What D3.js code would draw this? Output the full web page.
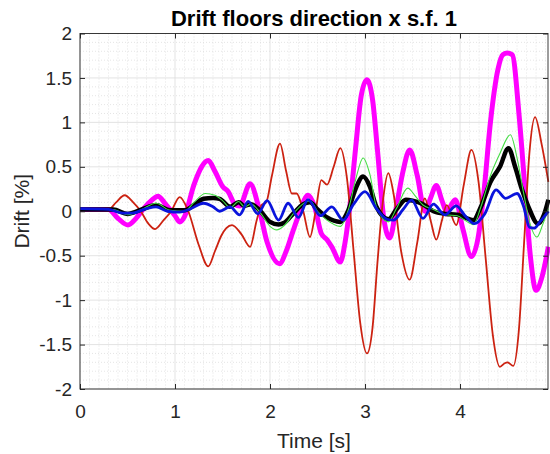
<!DOCTYPE html>
<html>
<head>
<meta charset="utf-8">
<script src="https://cdn.jsdelivr.net/npm/d3@7"></script>
<style>
  body { margin: 0; background: #fff; }
  text { font-family: "Liberation Sans", Arial, sans-serif; }
</style>
</head>
<body>
<div id="chart"></div>
<script>
// tick values
const xTicks = [0, 1, 2, 3, 4];
const yTicks = [-2, -1.5, -1, -0.5, 0, 0.5, 1, 1.5, 2];

// series: time [s] and drift [%]
const redT = [0, 0.3, 0.38, 0.47, 0.56, 0.64, 0.72, 0.79, 0.88, 0.96, 1.05, 1.14, 1.25, 1.35, 1.42, 1.49, 1.54, 1.6, 1.7, 1.79, 1.86, 1.91, 1.96, 2.02, 2.105, 2.17, 2.23, 2.28, 2.35, 2.42, 2.48, 2.54, 2.6, 2.67, 2.74, 2.81, 2.88, 2.95, 3.02, 3.08, 3.13, 3.19, 3.245, 3.3, 3.38, 3.47, 3.55, 3.63, 3.69, 3.75, 3.81, 3.86, 3.96, 4.04, 4.12, 4.195, 4.27, 4.345, 4.42, 4.47, 4.5, 4.56, 4.62, 4.675, 4.73, 4.79, 4.86, 4.93];
const redV = [0.02, 0.02, 0.1, 0.18, 0.1, 0, -0.14, -0.2, -0.1, 0, 0.16, 0, -0.38, -0.62, -0.45, -0.27, -0.19, -0.155, -0.26, -0.4, -0.1, 0.07, 0.1, 0.4, 0.76, 0.45, 0.2, 0.2, 0, -0.29, 0, 0.35, 0.3, 0.5, 0.71, 0.37, -0.45, -1.26, -1.6, -1.3, -0.59, 0.13, 0.43, 0.2, -0.45, -0.77, -0.35, 0.145, -0.1, -0.32, -0.1, 0.07, -0.155, 0.3, 0.69, 0.33, -0.53, -1.39, -1.75, -1.71, -1.7, -1.74, -1.33, -0.34, 0.65, 1.06, 0.75, 0.33];

const magT = [0, 0.3, 0.4, 0.505, 0.59, 0.67, 0.75, 0.82, 0.9, 1.0, 1.05, 1.1, 1.2, 1.28, 1.35, 1.42, 1.5, 1.56, 1.63, 1.68, 1.79, 1.88, 1.97, 2.1, 2.17, 2.24, 2.3, 2.4, 2.47, 2.54, 2.6, 2.65, 2.74, 2.79, 2.84, 2.9, 2.96, 3.02, 3.08, 3.13, 3.2, 3.26, 3.33, 3.4, 3.47, 3.55, 3.63, 3.69, 3.75, 3.81, 3.86, 3.95, 4.03, 4.12, 4.19, 4.25, 4.32, 4.4, 4.45, 4.5, 4.55, 4.62, 4.68, 4.74, 4.8, 4.86, 4.93];
const magV = [0.02, 0.02, -0.08, -0.155, -0.08, 0.03, 0.12, 0.17, 0.08, -0.05, -0.12, -0.06, 0.3, 0.5, 0.57, 0.45, 0.28, 0.22, 0.08, 0.06, 0.31, 0.05, -0.35, -0.59, -0.45, -0.23, -0.05, 0.18, 0.05, -0.25, -0.32, -0.4, -0.57, -0.35, 0.05, 0.7, 1.3, 1.48, 1.25, 0.7, -0.1, -0.3, 0.05, 0.45, 0.69, 0.4, 0, 0.15, 0.29, 0.12, 0, 0.13, -0.2, -0.51, -0.3, 0.2, 1.0, 1.6, 1.76, 1.78, 1.76, 1.1, 0.3, -0.5, -0.89, -0.75, -0.4];

const blackT = [0, 0.35, 0.5, 0.65, 0.8, 0.95, 1.1, 1.2, 1.3, 1.4, 1.47, 1.58, 1.67, 1.73, 1.8, 1.9, 2.0, 2.09, 2.15, 2.25, 2.35, 2.42, 2.5, 2.6, 2.74, 2.82, 2.9, 2.98, 3.05, 3.12, 3.245, 3.33, 3.43, 3.5, 3.61, 3.72, 3.85, 3.97, 4.05, 4.14, 4.22, 4.32, 4.42, 4.51, 4.58, 4.65, 4.72, 4.82, 4.88, 4.93];
const blackV = [0.02, 0.02, -0.03, 0.02, 0.07, 0.01, 0.01, 0.07, 0.14, 0.15, 0.14, 0.05, 0.1, 0.06, 0.08, 0, -0.12, -0.15, -0.13, -0.02, 0.08, 0.1, 0.02, -0.07, -0.12, 0, 0.25, 0.39, 0.28, 0.05, -0.09, 0.02, 0.13, 0.12, 0.08, 0, -0.03, -0.04, -0.07, -0.1, 0.05, 0.33, 0.5, 0.71, 0.5, 0.25, 0.05, -0.14, -0.05, 0.13];

const greenT = [0, 0.35, 0.5, 0.65, 0.8, 0.95, 1.1, 1.2, 1.32, 1.42, 1.5, 1.58, 1.67, 1.73, 1.8, 1.9, 2.0, 2.07, 2.15, 2.25, 2.37, 2.42, 2.5, 2.6, 2.74, 2.82, 2.9, 2.98, 3.05, 3.12, 3.245, 3.33, 3.45, 3.53, 3.61, 3.72, 3.85, 3.97, 4.05, 4.14, 4.22, 4.32, 4.42, 4.53, 4.6, 4.67, 4.74, 4.81, 4.87, 4.93];
const greenV = [0.02, 0.02, -0.04, 0.02, 0.09, 0.01, 0, 0.1, 0.2, 0.18, 0.12, 0.04, 0.11, 0.05, 0.08, -0.02, -0.17, -0.21, -0.16, -0.02, 0.1, 0.12, 0, -0.1, -0.17, 0, 0.35, 0.6, 0.42, 0.05, -0.12, 0.03, 0.26, 0.17, 0.07, 0.02, -0.04, -0.05, -0.1, -0.15, 0.05, 0.4, 0.65, 0.86, 0.6, 0.2, -0.15, -0.29, -0.15, 0.03];

const blueT = [0, 0.3, 0.45, 0.55, 0.7, 0.8, 0.92, 1.05, 1.15, 1.3, 1.4, 1.47, 1.58, 1.68, 1.77, 1.87, 1.97, 2.09, 2.19, 2.3, 2.4, 2.53, 2.65, 2.77, 2.88, 3.0, 3.12, 3.23, 3.3, 3.4, 3.49, 3.61, 3.72, 3.84, 3.96, 4.06, 4.15, 4.26, 4.38, 4.48, 4.6, 4.67, 4.73, 4.78, 4.84, 4.93];
const blueV = [0.03, 0.02, -0.02, -0.02, 0.03, 0.05, 0, -0.01, 0.02, 0.09, 0.05, 0, 0.05, -0.04, 0.11, -0.03, 0.12, -0.1, 0.09, -0.07, 0.13, -0.05, 0.05, -0.1, 0.08, 0.22, 0.03, -0.09, -0.1, 0.02, 0.125, -0.08, 0.08, -0.04, 0.06, -0.06, -0.14, -0.03, 0.24, 0.145, 0.2, 0.05, -0.18, -0.19, -0.12, 0];

const series = [
  { t: magT, v: magV, color: "#ff00ff", w: 5 },
  { t: redT, v: redV, color: "#cc2211", w: 1.8 },
  { t: blackT, v: blackV, color: "#000000", w: 4.5 },
  { t: greenT, v: greenV, color: "#44dd44", w: 1.1 },
  { t: blueT, v: blueV, color: "#0a14dc", w: 2.8 }
];

const W = 550, H = 454;
const pLeft = 80, pRight = 548, pTop = 33.5, pBottom = 389;

const svg = d3.select("#chart").append("svg")
  .attr("width", W)
  .attr("height", H);

const x = d3.scaleLinear().domain([0, 4.926]).range([pLeft, pRight]);
const y = d3.scaleLinear().domain([-2, 2]).range([pBottom, pTop]);

// minor grid (dotted)
const xMinor = d3.range(1, 50).map(i => i / 10).filter(d => i10(d) % 10 !== 0 && d < 4.926);
const yMinor = d3.range(-20, 21).map(i => i / 10).filter(d => i10(d) % 5 !== 0);
function i10(d) { return Math.round(d * 10); }

svg.append("g").selectAll("line").data(xMinor).enter().append("line")
  .attr("x1", d => x(d)).attr("x2", d => x(d))
  .attr("y1", pTop).attr("y2", pBottom)
  .attr("stroke", "#d4d4d4").attr("stroke-width", 0.6)
  .attr("stroke-dasharray", "1,2");

svg.append("g").selectAll("line").data(yMinor).enter().append("line")
  .attr("x1", pLeft).attr("x2", pRight)
  .attr("y1", d => y(d)).attr("y2", d => y(d))
  .attr("stroke", "#d4d4d4").attr("stroke-width", 0.6)
  .attr("stroke-dasharray", "1,2");

// major grid
svg.append("g").selectAll("line").data(xTicks).enter().append("line")
  .attr("x1", d => x(d)).attr("x2", d => x(d))
  .attr("y1", pTop).attr("y2", pBottom)
  .attr("stroke", "#dcdcdc").attr("stroke-width", 0.8);

svg.append("g").selectAll("line").data(yTicks).enter().append("line")
  .attr("x1", pLeft).attr("x2", pRight)
  .attr("y1", d => y(d)).attr("y2", d => y(d))
  .attr("stroke", "#dcdcdc").attr("stroke-width", 0.8);

// curves
const line = d3.line()
  .x(d => x(d[0]))
  .y(d => y(d[1]))
  .curve(d3.curveMonotoneX);

series.forEach(s => {
  svg.append("path")
    .datum(s.t.map((t, i) => [t, s.v[i]]))
    .attr("fill", "none")
    .attr("stroke", s.color)
    .attr("stroke-width", s.w)
    .attr("stroke-linejoin", "round")
    .attr("d", line);
});

// axes
const axisColor = "#262626";

const gx = svg.append("g")
  .attr("transform", `translate(0,${pBottom})`)
  .call(d3.axisBottom(x).tickValues(xTicks).tickSize(-5).tickSizeOuter(0).tickPadding(16).tickFormat(d => String(d)));

const gy = svg.append("g")
  .attr("transform", `translate(${pLeft},0)`)
  .call(d3.axisLeft(y).tickValues(yTicks).tickSize(-5).tickSizeOuter(0).tickPadding(8).tickFormat(d => String(d)));

const gt = svg.append("g")
  .attr("transform", `translate(0,${pTop})`)
  .call(d3.axisTop(x).tickValues(xTicks).tickSize(-5).tickSizeOuter(0).tickFormat(""));

const gr = svg.append("g")
  .attr("transform", `translate(${pRight},0)`)
  .call(d3.axisRight(y).tickValues(yTicks).tickSize(-5).tickSizeOuter(0).tickFormat(""));

[gx, gy, gt, gr].forEach(g => {
  g.select(".domain").remove();
  g.selectAll("line").attr("stroke", axisColor);
  g.selectAll("text")
    .attr("fill", axisColor)
    .style("font-size", "19px")
    .style("font-family", "'Liberation Sans', Arial, sans-serif");
});

svg.append("rect")
  .attr("x", pLeft).attr("y", pTop)
  .attr("width", pRight - pLeft).attr("height", pBottom - pTop)
  .attr("fill", "none")
  .attr("stroke", axisColor)
  .attr("stroke-width", 0.9);

// title and labels
svg.append("text")
  .attr("x", (pLeft + pRight) / 2)
  .attr("y", 26)
  .attr("text-anchor", "middle")
  .style("font-size", "22px")
  .style("font-weight", "bold")
  .attr("fill", "#000")
  .text("Drift floors direction x s.f. 1");

svg.append("text")
  .attr("x", (pLeft + pRight) / 2)
  .attr("y", 448)
  .attr("text-anchor", "middle")
  .style("font-size", "21px")
  .attr("fill", axisColor)
  .text("Time [s]");

svg.append("text")
  .attr("transform", `translate(29,${(pTop + pBottom) / 2}) rotate(-90)`)
  .attr("text-anchor", "middle")
  .style("font-size", "21px")
  .attr("fill", axisColor)
  .text("Drift [%]");
</script>
</body>
</html>
